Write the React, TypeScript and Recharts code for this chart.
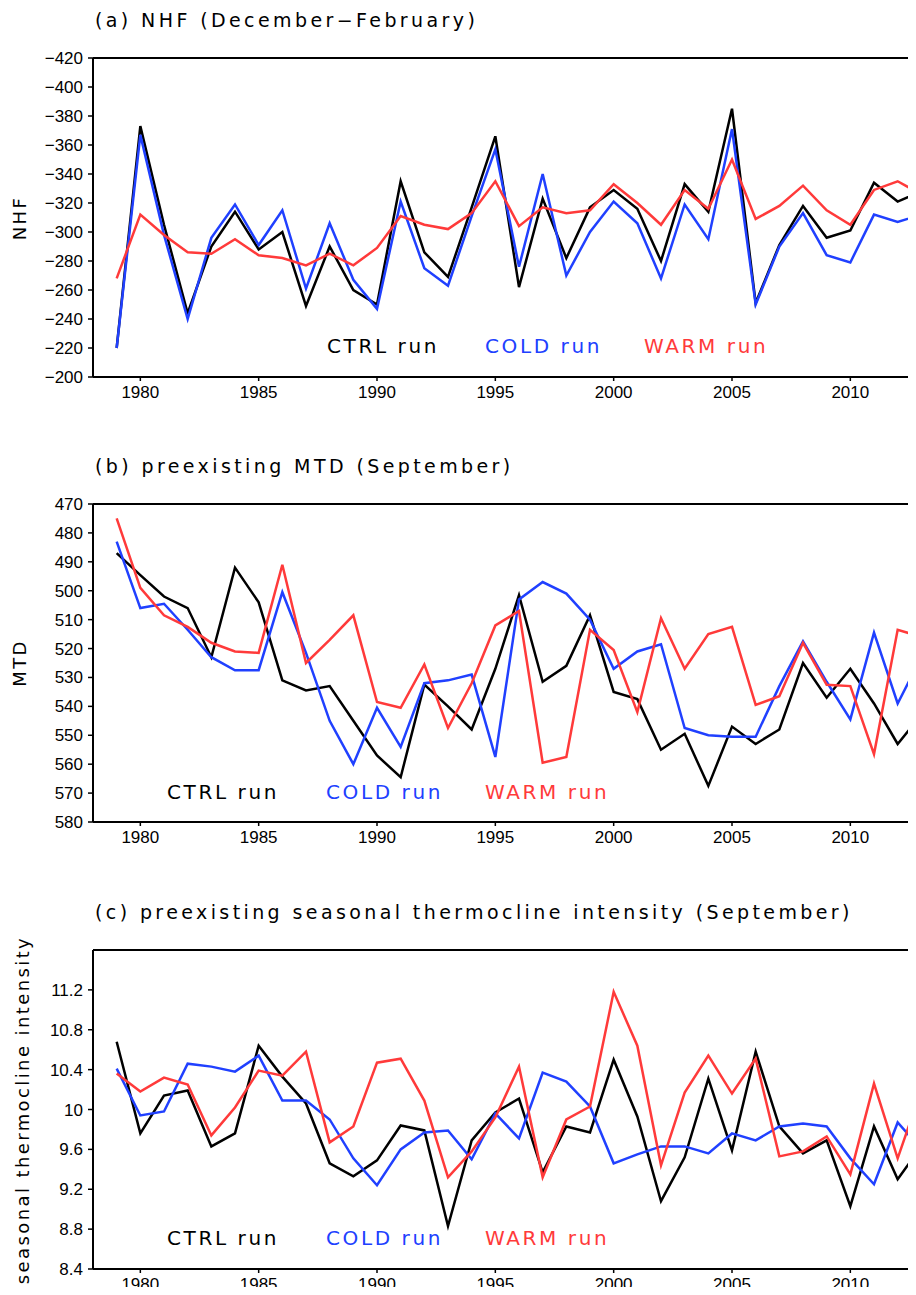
import * as React from 'react';
import { LineChart, Line, XAxis, YAxis, ReferenceLine } from 'recharts';

const years = [
  1979, 1980, 1981, 1982, 1983, 1984, 1985, 1986, 1987, 1988, 1989, 1990,
  1991, 1992, 1993, 1994, 1995, 1996, 1997, 1998, 1999, 2000, 2001, 2002,
  2003, 2004, 2005, 2006, 2007, 2008, 2009, 2010, 2011, 2012, 2013,
];
const yearTicks = [1980, 1985, 1990, 1995, 2000, 2005, 2010];

// (a) NHF, December-February
const nhfCtrl = [
  -220, -373, -305, -244, -290, -314, -288, -300, -249, -290, -260, -250,
  -335, -286, -269, -317, -366, -262, -323, -282, -317, -329, -316, -280,
  -333, -314, -385, -251, -291, -318, -296, -301, -334, -321, -328,
];
const nhfCold = [
  -220, -367, -298, -240, -296, -319, -291, -315, -261, -306, -267, -247,
  -321, -275, -263, -311, -357, -276, -340, -270, -300, -321, -306, -268,
  -319, -295, -371, -250, -290, -313, -284, -279, -312, -307, -312,
];
const nhfWarm = [
  -268, -312, -298, -286, -285, -295, -284, -282, -277, -285, -277, -289,
  -311, -305, -302, -313, -335, -304, -317, -313, -315, -333, -320, -305,
  -329, -316, -350, -309, -318, -332, -315, -305, -329, -335, -326,
];
const nhfTicks = [-420, -400, -380, -360, -340, -320, -300, -280, -260, -240, -220, -200];

// (b) preexisting MTD, September
const mtdCtrl = [
  487, 494.6, 502, 506, 523, 492, 504, 531, 534.5, 533, 545, 557,
  564.5, 532.5, 540, 548, 527, 501.5, 531.5, 526, 508.5, 535, 537.5, 555,
  549.5, 567.5, 547, 553, 548, 525, 537, 527, 539, 553, 543,
];
const mtdCold = [
  483, 506, 504.5, 513.5, 523, 527.5, 527.5, 500.5, 521.5, 545, 560, 540.5,
  554, 532, 531, 529, 557.5, 503, 497, 501, 510, 527, 521, 518.5,
  547.5, 550, 550.5, 550.5, 533, 517.5, 531.5, 544.5, 514.5, 539, 523,
];
const mtdWarm = [
  475, 499, 508.5, 512.5, 518, 521, 521.5, 491, 525, 517, 508.5, 538.5,
  540.5, 525.5, 547.5, 532, 512, 507, 559.5, 557.5, 513.5, 520.5, 542, 509.5,
  527, 515, 512.5, 539.5, 536.5, 518, 532.5, 533, 556.5, 513.5, 516,
];
const mtdTicks = [470, 480, 490, 500, 510, 520, 530, 540, 550, 560, 570, 580];

// (c) preexisting seasonal thermocline intensity, September
const stiCtrl = [
  10.68, 9.76, 10.14, 10.19, 9.63, 9.76, 10.64, 10.33, 10.06, 9.46, 9.33, 9.49,
  9.84, 9.79, 8.83, 9.69, 9.97, 10.11, 9.37, 9.83, 9.77, 10.5, 9.93, 9.08,
  9.52, 10.31, 9.59, 10.58, 9.83, 9.56, 9.69, 9.03, 9.83, 9.3, 9.63,
];
const stiCold = [
  10.41, 9.94, 9.98, 10.46, 10.43, 10.38, 10.54, 10.09, 10.09, 9.9, 9.51, 9.24,
  9.6, 9.77, 9.79, 9.5, 9.96, 9.71, 10.37, 10.28, 10.03, 9.46, 9.55, 9.63,
  9.63, 9.56, 9.76, 9.69, 9.83, 9.86, 9.83, 9.51, 9.25, 9.87, 9.6,
];
const stiWarm = [
  10.36, 10.18, 10.32, 10.25, 9.74, 10.02, 10.39, 10.34, 10.58, 9.67, 9.83, 10.47,
  10.51, 10.09, 9.32, 9.58, 9.92, 10.43, 9.32, 9.9, 10.03, 11.18, 10.64, 9.44,
  10.17, 10.54, 10.16, 10.51, 9.53, 9.58, 9.73, 9.35, 10.26, 9.51, 10.2,
];
const stiTicks = [8.4, 8.8, 9.2, 9.6, 10, 10.4, 10.8, 11.2];

const BLACK = '#000000';
const BLUE = '#2040ff';
const RED = '#ff3a3a';
const thinFont = '"DejaVu Sans", sans-serif';
const tickFont = '"Liberation Sans", Arial, sans-serif';

function rows(ctrl: number[], cold: number[], warm: number[]) {
  return years.map((year, i) => ({ year, ctrl: ctrl[i], cold: cold[i], warm: warm[i] }));
}

const fmt = (v: number) => String(v).replace('-', '\u2212');

interface PanelProps {
  top: number;
  plotHeight: number;
  title: string;
  yLabel: string;
  yLabelX: number;
  data: ReturnType<typeof rows>;
  domain: [number, number];
  ticks: number[];
  reversed: boolean;
  edge: number;
  legendX: [number, number, number];
}

function Panel({ top, plotHeight, title, yLabel, yLabelX, data, domain, ticks, reversed, edge, legendX }: PanelProps) {
  const chartH = 50 + plotHeight + 31;
  const legendStyle: React.CSSProperties = {
    position: 'absolute', top: 326, fontFamily: thinFont, fontSize: 20,
    letterSpacing: 2.6, lineHeight: '24px', whiteSpace: 'nowrap',
  };
  return (
    <div style={{ position: 'absolute', left: 0, top, width: 960, height: chartH }}>
      <LineChart
        width={960}
        height={chartH}
        data={data}
        margin={{ top: 50, right: 23, bottom: 0, left: 0 }}
      >
        <XAxis
          dataKey="year"
          type="number"
          domain={[1978, 2014]}
          ticks={yearTicks}
          allowDataOverflow
          height={31}
          tickSize={4}
          tickMargin={5}
          axisLine={{ stroke: BLACK, strokeWidth: 2 }}
          tickLine={{ stroke: BLACK, strokeWidth: 1.5 }}
          tick={{ fill: BLACK, fontSize: 17, fontFamily: tickFont }}
        />
        <YAxis
          type="number"
          domain={domain}
          ticks={ticks}
          reversed={reversed}
          allowDataOverflow
          width={85}
          tickSize={5}
          tickMargin={5}
          tickFormatter={fmt}
          axisLine={{ stroke: BLACK, strokeWidth: 2 }}
          tickLine={{ stroke: BLACK, strokeWidth: 1.5 }}
          tick={{ fill: BLACK, fontSize: 17, fontFamily: tickFont }}
        />
        <ReferenceLine y={edge} stroke={BLACK} strokeWidth={2} />
        <Line type="linear" dataKey="ctrl" stroke={BLACK} strokeWidth={2.5} dot={false} isAnimationActive={false} />
        <Line type="linear" dataKey="cold" stroke={BLUE} strokeWidth={2.5} dot={false} isAnimationActive={false} />
        <Line type="linear" dataKey="warm" stroke={RED} strokeWidth={2.5} dot={false} isAnimationActive={false} />
      </LineChart>

      <div style={{
        position: 'absolute', left: 87, top: 0, fontFamily: thinFont, fontSize: 19,
        letterSpacing: 3.4, lineHeight: '24px', whiteSpace: 'nowrap', color: BLACK,
      }}>
        {title}
      </div>
      <div style={{
        position: 'absolute', left: yLabelX, top: 50 + plotHeight / 2,
        transform: 'translate(-50%, -50%) rotate(-90deg)', fontFamily: thinFont,
        fontSize: 18, letterSpacing: 2.4, lineHeight: '22px', whiteSpace: 'nowrap', color: BLACK,
      }}>
        {yLabel}
      </div>
      <div style={{ ...legendStyle, left: legendX[0], color: BLACK }}>CTRL run</div>
      <div style={{ ...legendStyle, left: legendX[1], color: BLUE }}>COLD run</div>
      <div style={{ ...legendStyle, left: legendX[2], color: RED }}>WARM run</div>
    </div>
  );
}

export default function App() {
  return (
    <div style={{
      position: 'relative', width: 908, height: 1287, marginBottom: -8,
      overflow: 'hidden', background: '#fff',
    }}>
      <Panel
        top={0}
        plotHeight={319}
        title={'(a) NHF (December\u2212February)'}
        yLabel="NHF"
        yLabelX={12}
        data={rows(nhfCtrl, nhfCold, nhfWarm)}
        domain={[-420, -200]}
        ticks={nhfTicks}
        reversed
        edge={-420}
        legendX={[319, 477, 636]}
      />
      <Panel
        top={446}
        plotHeight={318}
        title="(b) preexisting MTD (September)"
        yLabel="MTD"
        yLabelX={12}
        data={rows(mtdCtrl, mtdCold, mtdWarm)}
        domain={[470, 580]}
        ticks={mtdTicks}
        reversed
        edge={470}
        legendX={[159, 318, 477]}
      />
      <Panel
        top={892}
        plotHeight={319}
        title="(c) preexisting seasonal thermocline intensity (September)"
        yLabel="seasonal thermocline intensity"
        yLabelX={15}
        data={rows(stiCtrl, stiCold, stiWarm)}
        domain={[8.4, 11.6]}
        ticks={stiTicks}
        reversed={false}
        edge={11.6}
        legendX={[159, 318, 477]}
      />
    </div>
  );
}
